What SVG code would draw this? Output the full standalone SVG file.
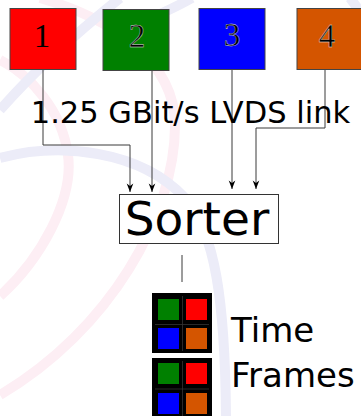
<svg xmlns="http://www.w3.org/2000/svg" width="361" height="416" viewBox="0 0 361 416">
  <defs>
    <style>
      .bgp { fill: none; stroke: #fdeef4; stroke-width: 10; }
      .bgl { fill: none; stroke: #ececf8; stroke-width: 10; }
      .link { fill: none; stroke: #3a3a3a; stroke-width: 1; }
      .box { stroke: #444; stroke-width: 1; }
      .digit { font-family: "Liberation Serif", "Times New Roman", serif; font-size: 33px; fill: #000; text-anchor: middle; }
      .halo { stroke: #e8e8e8; stroke-width: 0.35; }
      .sans { font-family: "DejaVu Sans", "Liberation Sans", sans-serif; fill: #000; }
      .grid { stroke: #333; stroke-width: 0.8; fill: none; }
    </style>
    <marker id="arr" viewBox="-9 -4 10 8" refX="0" refY="0" markerWidth="10" markerHeight="8" markerUnits="userSpaceOnUse" orient="auto">
      <path d="M0,0 L-8.5,-3.3 L-6,0 L-8.5,3.3 Z" fill="#000"/>
    </marker>
  </defs>

  <rect width="361" height="416" fill="#fff"/>

  <g id="background">
    <path class="bgp" d="M0,60 C30,75 62,110 68,155 C74,200 40,260 0,296"/>
    <path class="bgp" d="M40,-2 C110,18 175,60 175,125 C175,215 110,330 0,395"/>
    <path class="bgl" d="M0,158 C60,142 140,150 185,198 C215,232 225,300 226,416"/>
    <path class="bgl" d="M0,110 C35,70 80,30 120,-2"/>
    <path class="bgl" d="M160,14 Q178,6 192,-2"/>
    <path class="bgl" d="M350,-2 Q356,6 362,14"/>
  </g>

  <g id="connectors">
    <path class="link" d="M43,70 V145 H130 V192" marker-end="url(#arr)"/>
    <path class="link" d="M152,70 V192" marker-end="url(#arr)"/>
    <path class="link" d="M232,69 V189" marker-end="url(#arr)"/>
    <path class="link" d="M325,69 V128 H256 V189" marker-end="url(#arr)"/>
    <path class="link" d="M182,255 V282"/>
  </g>

  <g id="link1">
    <rect class="box" x="10" y="8.5" width="66" height="61" fill="#ff0000"/>
    <text class="digit" x="42" y="47">1</text>
  </g>
  <g id="link2">
    <rect class="box" x="103" y="9.5" width="66" height="61" fill="#008000"/>
    <text class="digit halo" x="137" y="47">2</text>
  </g>
  <g id="link3">
    <rect class="box" x="199" y="8.5" width="66" height="61" fill="#0000ff"/>
    <text class="digit halo" x="232" y="46">3</text>
  </g>
  <g id="link4">
    <rect class="box" x="297" y="8.5" width="66" height="61" fill="#d45500"/>
    <text class="digit halo" x="327" y="47">4</text>
  </g>

  <g id="label">
    <text class="sans" x="190.5" y="123" font-size="30.5" text-anchor="middle">1.25 GBit/s LVDS link</text>
  </g>

  <g id="sorter">
    <rect x="119.5" y="194.5" width="159" height="49" fill="#fff" stroke="#333" stroke-width="1"/>
    <text class="sans" x="197" y="235" font-size="47" text-anchor="middle">Sorter</text>
  </g>

  <g id="frame1">
    <rect x="152" y="293" width="60" height="60" fill="#000"/>
    <path class="grid" d="M155,324.5 H209 M182.5,296 V351"/>
    <rect x="158" y="299" width="21" height="21" fill="#008000"/>
    <rect x="186" y="299" width="21" height="21" fill="#ff0000"/>
    <rect x="158" y="328" width="21" height="21" fill="#0000ff"/>
    <rect x="186" y="328" width="21" height="21" fill="#d45500"/>
  </g>
  <g id="frame2">
    <rect x="152" y="358" width="60" height="60" fill="#000"/>
    <path class="grid" d="M155,389 H209 M182.5,361 V416"/>
    <rect x="158" y="363" width="21" height="21" fill="#008000"/>
    <rect x="186" y="363" width="21" height="21" fill="#ff0000"/>
    <rect x="158" y="393" width="21" height="21" fill="#0000ff"/>
    <rect x="186" y="393" width="21" height="21" fill="#d45500"/>
  </g>

  <g id="timeframes-label">
    <text class="sans" x="231" y="342" font-size="34">Time</text>
    <text class="sans" x="231" y="387" font-size="34">Frames</text>
  </g>
</svg>
